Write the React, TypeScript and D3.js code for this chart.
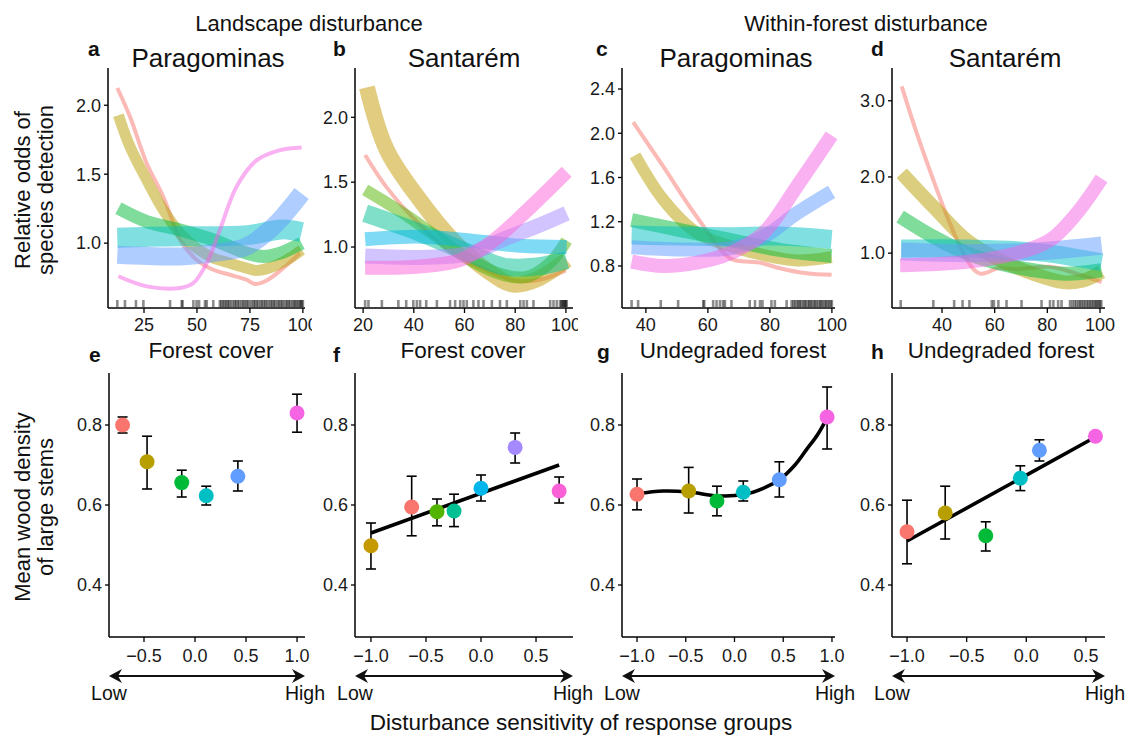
import React from "react";
import * as d3 from "d3";

type P = [number, number];

const FONT = "'Liberation Sans', Arial, Helvetica, sans-serif";

// ggplot default hue palettes
const COLORS6 = ["#F8766D", "#B79F00", "#00BA38", "#00BFC4", "#619CFF", "#F564E3"];
const COLORS7 = ["#F8766D", "#C49A00", "#53B400", "#00C094", "#00B6EB", "#A58AFF", "#FB61D7"];

// ---------- Panel a (Landscape, Paragominas): forest cover vs relative odds ----------
const aRed: P[] = [[12.4, 2.125], [18.4, 1.916], [26.3, 1.578], [34.1, 1.337], [38.8, 1.145], [42.0, 1.024], [49.8, 0.88], [57.7, 0.807], [65.6, 0.771], [73.4, 0.735], [77.4, 0.704], [82.9, 0.73], [90.7, 0.819], [98.6, 0.928]];
const aOlive: P[] = [[12.9, 1.928], [18.4, 1.699], [26.3, 1.458], [34.1, 1.241], [42.0, 1.072], [49.8, 0.964], [57.7, 0.892], [65.6, 0.855], [73.4, 0.819], [78.1, 0.802], [86.0, 0.831], [93.9, 0.892], [99.4, 0.952]];
const aGreen: P[] = [[12.9, 1.253], [26.3, 1.157], [42.0, 1.096], [57.7, 1.024], [73.4, 0.928], [81.3, 0.904], [89.2, 0.928], [99.4, 1.0]];
const aCyan: P[] = [[12.4, 1.04], [25, 1.045], [42, 1.05], [60, 1.05], [75, 1.06], [90, 1.1], [99.4, 1.08]];
const aBlue: P[] = [[12.4, 0.916], [42.0, 0.904], [57.7, 0.928], [73.4, 0.976], [86.0, 1.12], [99.4, 1.36]];
const aPink: P[] = [[12.9, 0.76], [26.3, 0.687], [42.0, 0.675], [48.3, 0.711], [54.6, 0.855], [60.8, 1.096], [68.7, 1.41], [78.1, 1.6], [89.2, 1.675], [99.4, 1.694]];
const aRug = [12.4, 16, 21.2, 24.7, 37.3, 42.8, 43.2, 48.3, 49.8, 51, 53.8, 54.6, 57.7, 60.8, 61.5, 62.3, 63, 63.8, 64.5, 65.2, 66, 67, 67.8, 68.5, 69.3, 70, 71, 71.8, 72.5, 73.4, 74, 75, 76, 76.8, 77.5, 78.3, 79, 80, 80.7, 81.5, 82.3, 83, 84, 84.8, 85.6, 86.3, 87, 88, 88.7, 89.5, 90.2, 91, 92, 92.6, 93.4, 94, 95, 95.7, 96.4, 97, 97.8, 98.5, 99, 99.5, 100];

// ---------- Panel b (Landscape, Santarém) ----------
const bRed: P[] = [[20.8, 1.71], [29.3, 1.46], [42.5, 1.17], [55.6, 0.95], [68.8, 0.82], [80, 0.74], [90, 0.75], [100, 0.82]];
const bOlive: P[] = [[21.5, 2.23], [29.3, 1.75], [42.5, 1.36], [55.5, 1.05], [68.8, 0.82], [79.2, 0.71], [88.5, 0.75], [100.3, 0.9]];
const bLime: P[] = [[20.8, 1.44], [35.8, 1.26], [49, 1.08], [62.2, 0.9], [75.3, 0.785], [84.6, 0.77], [93.8, 0.88], [100.3, 1.05]];
const bTeal: P[] = [[20.8, 1.26], [42.5, 1.11], [62.2, 0.95], [75.3, 0.85], [88.5, 0.85], [100.3, 0.9]];
const bBlue: P[] = [[20.8, 1.06], [42.5, 1.08], [62.2, 1.05], [82, 1.01], [100.3, 1.0]];
const bPurple: P[] = [[20.8, 0.93], [42.5, 0.92], [62.2, 0.95], [75.3, 1.06], [88.5, 1.16], [100.3, 1.26]];
const bPink: P[] = [[20.8, 0.84], [42.5, 0.85], [58.3, 0.9], [71.4, 1.05], [84.6, 1.28], [100.3, 1.58]];
const bRug = [20.8, 22.1, 27.4, 33.9, 37, 39.8, 41.2, 42.5, 44.9, 49.1, 54.3, 56.3, 58.3, 59.6, 60.9, 63.5, 65.5, 67.5, 70.8, 74, 76.7, 82, 83.3, 84.6, 87.2, 93.8, 95.1, 96.4, 97.7, 98.2, 98.6, 99, 99.4, 99.7, 100, 100.3];

// ---------- Panel c (Within-forest, Paragominas) ----------
const cRed: P[] = [[35.9, 2.1], [45.6, 1.7], [56.4, 1.245], [67.1, 0.87], [72.5, 0.84], [76.8, 0.83], [83.2, 0.78], [91.8, 0.734], [99.9, 0.72]];
const cOlive: P[] = [[36.5, 1.8], [45.6, 1.4], [56.4, 1.1], [67.1, 0.98], [77.8, 0.9], [88.6, 0.85], [99.9, 0.88]];
const cGreen: P[] = [[35.4, 1.215], [51, 1.125], [67.1, 1.035], [83.2, 0.945], [99.9, 0.89]];
const cCyan: P[] = [[35.4, 1.08], [51, 1.07], [67.1, 1.065], [83.2, 1.07], [99.9, 1.04]];
const cBlue: P[] = [[35.4, 0.97], [51, 0.95], [67.1, 0.96], [77.8, 1.06], [88.6, 1.275], [99.9, 1.47]];
const cPink: P[] = [[35.4, 0.84], [45.6, 0.8], [56.4, 0.83], [67.1, 0.915], [77.8, 1.095], [88.6, 1.515], [99.9, 1.98]];
const cRug = [35.4, 37.5, 44.8, 50.4, 58.5, 58.8, 61.7, 62.8, 63.9, 64.9, 65.5, 67.6, 73.5, 75.2, 76.8, 77.6, 80.5, 81.6, 85.4, 87, 87.6, 88.1, 88.7, 89.2, 89.6, 90.1, 90.7, 91.2, 91.6, 92.2, 92.7, 93.1, 93.6, 94.2, 94.6, 95.1, 95.7, 96.2, 96.6, 97.1, 97.7, 98.1, 98.6, 99.1, 99.6, 100];

// ---------- Panel d (Within-forest, Santarém) ----------
const dRed: P[] = [[24.7, 3.19], [30.4, 2.575], [36.7, 1.96], [43, 1.39], [48.1, 1.0], [51.9, 0.79], [54.6, 0.73], [57.5, 0.75], [61, 0.8], [68.4, 0.79], [81, 0.82], [91.1, 0.73], [100.6, 0.62]];
const dOlive: P[] = [[24.7, 2.05], [36.7, 1.61], [49.4, 1.17], [62, 0.91], [74.6, 0.73], [86, 0.62], [93.6, 0.64], [100.6, 0.755]];
const dGreen: P[] = [[24.1, 1.48], [36.7, 1.215], [49.4, 1.0], [62, 0.865], [74.6, 0.776], [87.2, 0.73], [100.6, 0.776]];
const dCyan: P[] = [[24.5, 1.06], [50, 1.06], [75, 1.02], [100.6, 0.88]];
const dBlue: P[] = [[24.5, 1.02], [50, 1.0], [75, 1.02], [100.6, 1.1]];
const dPink: P[] = [[24.1, 0.84], [49.4, 0.885], [68.4, 1.0], [81, 1.17], [91.1, 1.52], [100.6, 1.98]];
const dRug = [24.3, 36.7, 44.6, 47.8, 50.4, 58.9, 59.7, 61.4, 64.5, 70.2, 77.8, 81, 82.3, 84.1, 85.4, 88.6, 89.5, 90.3, 91, 91.8, 92.4, 93, 93.7, 94.3, 95, 95.6, 96.2, 96.8, 97.4, 98, 98.5, 99, 99.5, 100, 100.5];

// ---------- Top panel ticks ----------
const aXTicks = [25, 50, 75, 100];
const bXTicks = [20, 40, 60, 80, 100];
const cXTicks = [40, 60, 80, 100];
const dXTicks = [40, 60, 80, 100];
const aYTicks = [1.0, 1.5, 2.0];
const bYTicks = [1.0, 1.5, 2.0];
const cYTicks = [0.8, 1.2, 1.6, 2.0, 2.4];
const dYTicks = [1.0, 2.0, 3.0];

// line widths (style)
const aWidths = [4, 11, 13, 20, 18, 4];
const bWidths = [4, 16, 12, 18, 14, 15, 14];
const cWidths = [4, 12, 14, 19, 14, 14];
const dWidths = [4, 14, 14, 18, 18, 14];

// ---------- Bottom panels: mean wood density vs disturbance sensitivity ----------
const eX = [-0.71, -0.47, -0.13, 0.11, 0.42, 1.0];
const eY = [0.8, 0.708, 0.656, 0.623, 0.672, 0.83];
const eLo = [0.78, 0.64, 0.62, 0.6, 0.635, 0.782];
const eHi = [0.82, 0.772, 0.687, 0.647, 0.71, 0.877];

const fX = [-1.0, -0.63, -0.4, -0.245, 0.0, 0.31, 0.71];
const fY = [0.498, 0.595, 0.583, 0.585, 0.642, 0.744, 0.635];
const fLo = [0.44, 0.523, 0.548, 0.546, 0.61, 0.705, 0.605];
const fHi = [0.555, 0.672, 0.615, 0.627, 0.675, 0.78, 0.67];
const fColors = [COLORS7[1], COLORS7[0], COLORS7[2], COLORS7[3], COLORS7[4], COLORS7[5], COLORS7[6]];
const fFitX = [-1.0, 0.71];
const fFitY = [0.53, 0.7];

const gX = [-1.0, -0.47, -0.18, 0.09, 0.46, 0.95];
const gY = [0.627, 0.635, 0.61, 0.632, 0.663, 0.82];
const gLo = [0.588, 0.58, 0.573, 0.61, 0.62, 0.74];
const gHi = [0.665, 0.694, 0.647, 0.66, 0.708, 0.895];
const gFitX = [-1.0, -0.73, -0.45, -0.18, 0.09, 0.3, 0.47, 0.62, 0.74, 0.85, 0.95];
const gFitY = [0.628, 0.635, 0.632, 0.623, 0.626, 0.642, 0.665, 0.7, 0.739, 0.775, 0.818];

const hX = [-1.0, -0.68, -0.34, -0.05, 0.11, 0.58];
const hY = [0.533, 0.58, 0.523, 0.667, 0.737, 0.772];
const hLo = [0.453, 0.515, 0.485, 0.636, 0.71, 0.768];
const hHi = [0.612, 0.647, 0.558, 0.698, 0.763, 0.776];
const hFitX = [-1.0, 0.58];
const hFitY = [0.51, 0.77];

const eXTicks = [-0.5, 0, 0.5, 1.0];
const fXTicks = [-1.0, -0.5, 0, 0.5];
const gXTicks = [-1.0, -0.5, 0, 0.5, 1.0];
const hXTicks = [-1.0, -0.5, 0, 0.5];
const botYTicks = [0.4, 0.6, 0.8];

// ---------- layout ----------
const TOP_Y0 = 68;
const TOP_Y1 = 308;
const BOT_Y0 = 373;
const BOT_Y1 = 637;
const TICK_COLOR = "#1a1a1a";
const TICK_FS = 18;

const fmt1 = (v: number) => {
  const s = Math.abs(v).toFixed(1);
  return v < -1e-9 ? "\u2212" + s : s;
};

type TopProps = {
  id: string;
  x0: number;
  x1: number;
  xDomain: [number, number];
  yDomain: [number, number];
  xTicks: number[];
  yTicks: number[];
  curves: P[][];
  colors: string[];
  widths: number[];
  rug: number[];
  clipRight?: number;
};

function TopPanel(p: TopProps) {
  const x = d3.scaleLinear().domain(p.xDomain).range([p.x0, p.x1]);
  const y = d3.scaleLinear().domain(p.yDomain).range([TOP_Y1, TOP_Y0]);
  const line = d3
    .line<P>()
    .x((d) => x(d[0]))
    .y((d) => y(d[1]))
    .curve(d3.curveCatmullRom.alpha(0.5));
  const clipId = `clip-${p.id}`;
  return (
    <g>
      {p.clipRight !== undefined && (
        <clipPath id={clipId}>
          <rect x={p.x0 - 60} y={0} width={p.clipRight - p.x0 + 60} height={740} />
        </clipPath>
      )}
      {p.curves.map((c, i) => (
        <path
          key={i}
          d={line(c) || ""}
          fill="none"
          stroke={p.colors[i]}
          strokeOpacity={0.5}
          strokeWidth={p.widths[i]}
          strokeLinecap="butt"
          strokeLinejoin="round"
        />
      ))}
      {p.rug.map((v, i) => (
        <line key={i} x1={x(v)} x2={x(v)} y1={TOP_Y1 - 8} y2={TOP_Y1 - 1} stroke="#000" strokeOpacity={0.45} strokeWidth={2.6} />
      ))}
      {/* axes */}
      <line x1={p.x0} x2={p.x0} y1={TOP_Y0} y2={TOP_Y1} stroke="#000" strokeWidth={1.5} />
      <line x1={p.x0} x2={p.x1} y1={TOP_Y1} y2={TOP_Y1} stroke="#000" strokeWidth={1.5} />
      {p.yTicks.map((t) => (
        <g key={"y" + t}>
          <line x1={p.x0 - 4} x2={p.x0} y1={y(t)} y2={y(t)} stroke="#000" strokeWidth={1.3} />
          <text x={p.x0 - 7} y={y(t)} dy="0.35em" textAnchor="end" fontSize={TICK_FS} fill={TICK_COLOR} fontFamily={FONT}>
            {t.toFixed(1)}
          </text>
        </g>
      ))}
      <g clipPath={p.clipRight !== undefined ? `url(#${clipId})` : undefined}>
        {p.xTicks.map((t) => (
          <g key={"x" + t}>
            <line x1={x(t)} x2={x(t)} y1={TOP_Y1} y2={TOP_Y1 + 5} stroke="#000" strokeWidth={1.3} />
            <text x={x(t)} y={331} textAnchor="middle" fontSize={TICK_FS} fill={TICK_COLOR} fontFamily={FONT}>
              {String(t)}
            </text>
          </g>
        ))}
      </g>
    </g>
  );
}

type BotProps = {
  x0: number;
  x1: number;
  xDomain: [number, number];
  xTicks: number[];
  xs: number[];
  ys: number[];
  lo: number[];
  hi: number[];
  colors: string[];
  fitX?: number[];
  fitY?: number[];
};

function BottomPanel(p: BotProps) {
  const x = d3.scaleLinear().domain(p.xDomain).range([p.x0, p.x1]);
  const y = d3.scaleLinear().domain([0.27, 0.93]).range([BOT_Y1, BOT_Y0]);
  let fitPath = "";
  if (p.fitX && p.fitY) {
    const pts: P[] = p.fitX.map((v, i) => [v, p.fitY![i]]);
    const ln = d3
      .line<P>()
      .x((d) => x(d[0]))
      .y((d) => y(d[1]))
      .curve(pts.length > 2 ? d3.curveCatmullRom.alpha(0.5) : d3.curveLinear);
    fitPath = ln(pts) || "";
  }
  const ay = 676;
  const head = (xt: number, dir: number) =>
    `M${xt},${ay} L${xt + dir * 13},${ay - 7} L${xt + dir * 9},${ay} L${xt + dir * 13},${ay + 7} Z`;
  return (
    <g>
      <line x1={p.x0} x2={p.x0} y1={BOT_Y0} y2={BOT_Y1} stroke="#000" strokeWidth={1.5} />
      <line x1={p.x0} x2={p.x1} y1={BOT_Y1} y2={BOT_Y1} stroke="#000" strokeWidth={1.5} />
      {botYTicks.map((t) => (
        <g key={"y" + t}>
          <line x1={p.x0 - 4} x2={p.x0} y1={y(t)} y2={y(t)} stroke="#000" strokeWidth={1.3} />
          <text x={p.x0 - 7} y={y(t)} dy="0.35em" textAnchor="end" fontSize={TICK_FS} fill={TICK_COLOR} fontFamily={FONT}>
            {t.toFixed(1)}
          </text>
        </g>
      ))}
      {p.xTicks.map((t) => (
        <g key={"x" + t}>
          <line x1={x(t)} x2={x(t)} y1={BOT_Y1} y2={BOT_Y1 + 5} stroke="#000" strokeWidth={1.3} />
          <text x={x(t)} y={662} textAnchor="middle" fontSize={TICK_FS} fill={TICK_COLOR} fontFamily={FONT}>
            {fmt1(t)}
          </text>
        </g>
      ))}
      {fitPath && <path d={fitPath} fill="none" stroke="#000" strokeWidth={3.6} strokeLinecap="butt" />}
      {p.xs.map((v, i) => (
        <g key={"e" + i} stroke="#000" strokeWidth={1.6}>
          <line x1={x(v)} x2={x(v)} y1={y(p.lo[i])} y2={y(p.hi[i])} />
          <line x1={x(v) - 5} x2={x(v) + 5} y1={y(p.lo[i])} y2={y(p.lo[i])} />
          <line x1={x(v) - 5} x2={x(v) + 5} y1={y(p.hi[i])} y2={y(p.hi[i])} />
        </g>
      ))}
      {p.xs.map((v, i) => (
        <circle key={"p" + i} cx={x(v)} cy={y(p.ys[i])} r={7.5} fill={p.colors[i]} />
      ))}
      {/* double arrow */}
      <line x1={p.x0 + 8} x2={p.x1 - 8} y1={ay} y2={ay} stroke="#111" strokeWidth={2} />
      <path d={head(p.x0, 1)} fill="#111" />
      <path d={head(p.x1, -1)} fill="#111" />
      <text x={p.x0} y={700} textAnchor="middle" fontSize={19.5} fill="#111" fontFamily={FONT}>
        Low
      </text>
      <text x={p.x1} y={700} textAnchor="middle" fontSize={19.5} fill="#111" fontFamily={FONT}>
        High
      </text>
    </g>
  );
}

export default function App() {
  const label = (x: number, y: number, s: string) => (
    <text x={x} y={y} fontSize={21} fontWeight="bold" fontFamily={FONT} fill="#111">
      {s}
    </text>
  );
  const title = (x: number, y: number, s: string, fs: number) => (
    <text x={x} y={y} textAnchor="middle" fontSize={fs} fontFamily={FONT} fill="#111">
      {s}
    </text>
  );
  const vlabel = (x: number, y: number, s: string) => (
    <text x={x} y={y} transform={`rotate(-90 ${x} ${y})`} textAnchor="middle" fontSize={22} fontFamily={FONT} fill="#111">
      {s}
    </text>
  );
  return (
    <svg width={1136} height={740} style={{ position: "absolute", left: 0, top: 0, background: "#fff" }}>
      <rect x={0} y={0} width={1136} height={740} fill="#fff" />
      {title(309, 31, "Landscape disturbance", 22)}
      {title(866, 31, "Within-forest disturbance", 22)}

      {title(208, 67, "Paragominas", 26)}
      {title(464, 67, "Santarém", 26)}
      {title(736, 67, "Paragominas", 26)}
      {title(1005, 67, "Santarém", 26)}
      {label(88, 56, "a")}
      {label(333, 56, "b")}
      {label(596, 56, "c")}
      {label(871, 56, "d")}

      {vlabel(30, 190, "Relative odds of")}
      {vlabel(53, 190, "species detection")}
      {vlabel(30, 507, "Mean wood density")}
      {vlabel(53, 507, "of large stems")}

      <TopPanel
        id="a"
        x0={108}
        x1={305}
        xDomain={[8, 101]}
        yDomain={[0.53, 2.27]}
        xTicks={aXTicks}
        yTicks={aYTicks}
        curves={[aRed, aOlive, aGreen, aCyan, aBlue, aPink]}
        colors={COLORS6}
        widths={aWidths}
        rug={aRug}
        clipRight={312}
      />
      <TopPanel
        id="b"
        x0={355}
        x1={573}
        xDomain={[16.8, 102.8]}
        yDomain={[0.53, 2.38]}
        xTicks={bXTicks}
        yTicks={bYTicks}
        curves={[bRed, bOlive, bLime, bTeal, bBlue, bPurple, bPink]}
        colors={COLORS7}
        widths={bWidths}
        rug={bRug}
        clipRight={578}
      />
      <TopPanel
        id="c"
        x0={622}
        x1={835}
        xDomain={[32.3, 101]}
        yDomain={[0.42, 2.59]}
        xTicks={cXTicks}
        yTicks={cYTicks}
        curves={[cRed, cOlive, cGreen, cCyan, cBlue, cPink]}
        colors={COLORS6}
        widths={cWidths}
        rug={cRug}
      />
      <TopPanel
        id="d"
        x0={892}
        x1={1105}
        xDomain={[21, 101.9]}
        yDomain={[0.28, 3.43]}
        xTicks={dXTicks}
        yTicks={dYTicks}
        curves={[dRed, dOlive, dGreen, dCyan, dBlue, dPink]}
        colors={COLORS6}
        widths={dWidths}
        rug={dRug}
      />

      {title(211, 358, "Forest cover", 22.5)}
      {title(463, 358, "Forest cover", 22.5)}
      {title(733, 358, "Undegraded forest", 22.5)}
      {title(1001, 358, "Undegraded forest", 22.5)}
      {label(89, 362, "e")}
      {label(333, 362, "f")}
      {label(597, 359, "g")}
      {label(871, 359, "h")}

      <BottomPanel x0={109} x1={305} xDomain={[-0.843, 1.078]} xTicks={eXTicks} xs={eX} ys={eY} lo={eLo} hi={eHi} colors={COLORS6} />
      <BottomPanel
        x0={355}
        x1={573}
        xDomain={[-1.145, 0.836]}
        xTicks={fXTicks}
        xs={fX}
        ys={fY}
        lo={fLo}
        hi={fHi}
        colors={fColors}
        fitX={fFitX}
        fitY={fFitY}
      />
      <BottomPanel
        x0={622}
        x1={835}
        xDomain={[-1.154, 1.031]}
        xTicks={gXTicks}
        xs={gX}
        ys={gY}
        lo={gLo}
        hi={gHi}
        colors={COLORS6}
        fitX={gFitX}
        fitY={gFitY}
      />
      <BottomPanel
        x0={892}
        x1={1105}
        xDomain={[-1.126, 0.66]}
        xTicks={hXTicks}
        xs={hX}
        ys={hY}
        lo={hLo}
        hi={hHi}
        colors={COLORS6}
        fitX={hFitX}
        fitY={hFitY}
      />

      {title(581, 730, "Disturbance sensitivity of response groups", 22.5)}
    </svg>
  );
}
